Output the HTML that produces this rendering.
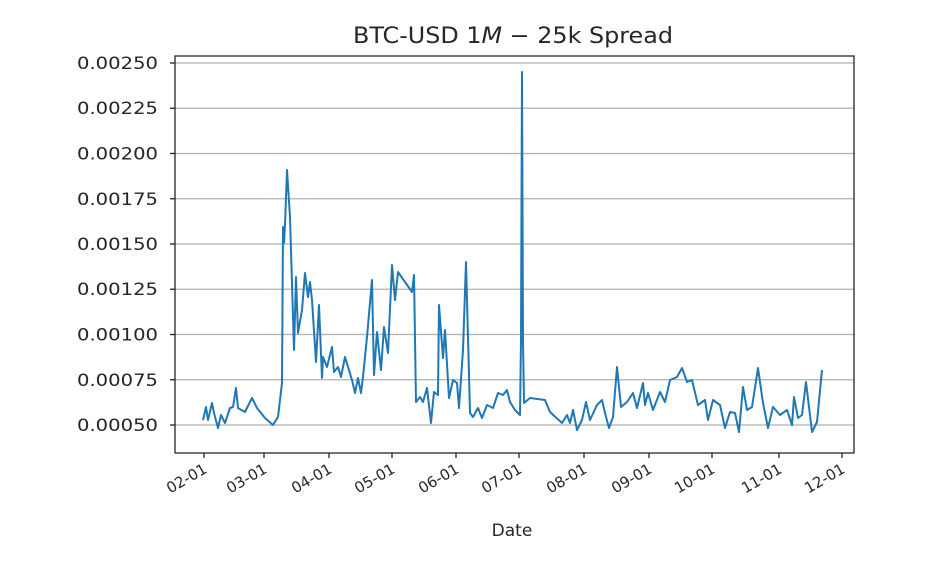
<!DOCTYPE html>
<html><head><meta charset="utf-8"><style>
html,body{margin:0;padding:0;background:#fff;}
svg{display:block;}
text{font-family:"DejaVu Sans","Liberation Sans",sans-serif;fill:#262626;}
</style></head><body>
<svg width="936" height="564" viewBox="0 0 936 564" xmlns="http://www.w3.org/2000/svg">
<rect width="936" height="564" fill="#fff"/>
<g stroke="#b0b0b0" stroke-width="1.2">
<line x1="175" x2="854" y1="425" y2="425"/>
<line x1="175" x2="854" y1="379.75" y2="379.75"/>
<line x1="175" x2="854" y1="334.5" y2="334.5"/>
<line x1="175" x2="854" y1="289.25" y2="289.25"/>
<line x1="175" x2="854" y1="244" y2="244"/>
<line x1="175" x2="854" y1="198.75" y2="198.75"/>
<line x1="175" x2="854" y1="153.5" y2="153.5"/>
<line x1="175" x2="854" y1="108.25" y2="108.25"/>
<line x1="175" x2="854" y1="63" y2="63"/>
</g>
<polyline fill="none" stroke="#1f77b4" stroke-width="2" stroke-linejoin="round" points="
203,420 206,407 208,420 212,403 214,413 218,428 221,415 225,423 230,408 233,407 236,388 238,408 245,412 252,398 257,408 265,418 273,425 278,417 282,383 283,227 284,243 285,225 287,170 290,217 294,350 296,277 298,333 302,310 305,273 308,297 310,282 312,300 316,362 319,305 322,378 323,357 327,367 332,347 334,372 338,367 341,377 345,357 352,380 355,393 358,378 361,393 363,377 367,337 372,280 374,375 377,332 381,370 384,327 388,353 392,265 395,300 398,272 412,292 414,275 416,402 420,397 423,402 427,388 431,423 434,392 438,395 439,305 443,358 445,330 449,398 453,380 457,383 459,408 463,350 466,262 470,413 473,417 478,408 482,418 487,405 493,408 498,393 503,395 507,390 510,402 515,410 520,415 521,340 522,72 523,340 524,403 530,398 545,400 550,412 562,423 567,415 570,423 573,410 577,430 582,420 586,402 590,420 597,405 602,400 605,413 609,428 613,417 617,367 621,407 627,402 633,393 637,408 643,383 645,405 648,393 653,410 660,392 665,402 670,380 677,377 682,368 687,382 692,380 698,405 705,400 708,420 713,400 720,405 725,428 730,412 735,413 739,432 743,387 747,410 752,407 758,368 763,403 768,428 773,407 780,415 787,410 792,425 794,397 798,418 802,415 806,382 812,432 817,422 822,370"/>
<rect x="175" y="56" width="679" height="397" fill="none" stroke="#262626" stroke-width="1.3"/>
<g stroke="#262626" stroke-width="1.3">
<line x1="175" x2="170" y1="425" y2="425"/>
<line x1="175" x2="170" y1="379.75" y2="379.75"/>
<line x1="175" x2="170" y1="334.5" y2="334.5"/>
<line x1="175" x2="170" y1="289.25" y2="289.25"/>
<line x1="175" x2="170" y1="244" y2="244"/>
<line x1="175" x2="170" y1="198.75" y2="198.75"/>
<line x1="175" x2="170" y1="153.5" y2="153.5"/>
<line x1="175" x2="170" y1="108.25" y2="108.25"/>
<line x1="175" x2="170" y1="63" y2="63"/>
<line x1="204" x2="204" y1="453" y2="458"/>
<line x1="264" x2="264" y1="453" y2="458"/>
<line x1="329" x2="329" y1="453" y2="458"/>
<line x1="392" x2="392" y1="453" y2="458"/>
<line x1="456" x2="456" y1="453" y2="458"/>
<line x1="519" x2="519" y1="453" y2="458"/>
<line x1="584" x2="584" y1="453" y2="458"/>
<line x1="649" x2="649" y1="453" y2="458"/>
<line x1="712" x2="712" y1="453" y2="458"/>
<line x1="779" x2="779" y1="453" y2="458"/>
<line x1="842" x2="842" y1="453" y2="458"/>
</g>
<g font-size="17" text-anchor="end">
<text x="158" y="431" textLength="81" lengthAdjust="spacingAndGlyphs">0.00050</text>
<text x="158" y="386" textLength="81" lengthAdjust="spacingAndGlyphs">0.00075</text>
<text x="158" y="340.5" textLength="81" lengthAdjust="spacingAndGlyphs">0.00100</text>
<text x="158" y="295" textLength="81" lengthAdjust="spacingAndGlyphs">0.00125</text>
<text x="158" y="250" textLength="81" lengthAdjust="spacingAndGlyphs">0.00150</text>
<text x="158" y="205" textLength="81" lengthAdjust="spacingAndGlyphs">0.00175</text>
<text x="158" y="159.5" textLength="81" lengthAdjust="spacingAndGlyphs">0.00200</text>
<text x="158" y="114" textLength="81" lengthAdjust="spacingAndGlyphs">0.00225</text>
<text x="158" y="69" textLength="81" lengthAdjust="spacingAndGlyphs">0.00250</text>
</g>
<g font-size="15" text-anchor="end">
<text transform="translate(208,472) rotate(-30)">02-01</text>
<text transform="translate(268,472) rotate(-30)">03-01</text>
<text transform="translate(333,472) rotate(-30)">04-01</text>
<text transform="translate(396,472) rotate(-30)">05-01</text>
<text transform="translate(460,472) rotate(-30)">06-01</text>
<text transform="translate(523,472) rotate(-30)">07-01</text>
<text transform="translate(588,472) rotate(-30)">08-01</text>
<text transform="translate(653,472) rotate(-30)">09-01</text>
<text transform="translate(716,472) rotate(-30)">10-01</text>
<text transform="translate(783,472) rotate(-30)">11-01</text>
<text transform="translate(846,472) rotate(-30)">12-01</text>
</g>
<text x="512" y="536" font-size="17" text-anchor="middle">Date</text>
<text x="353" y="43" font-size="22" textLength="320" lengthAdjust="spacingAndGlyphs">BTC-USD 1<tspan font-style="italic">M</tspan> − 25k Spread</text>
</svg>
</body></html>
